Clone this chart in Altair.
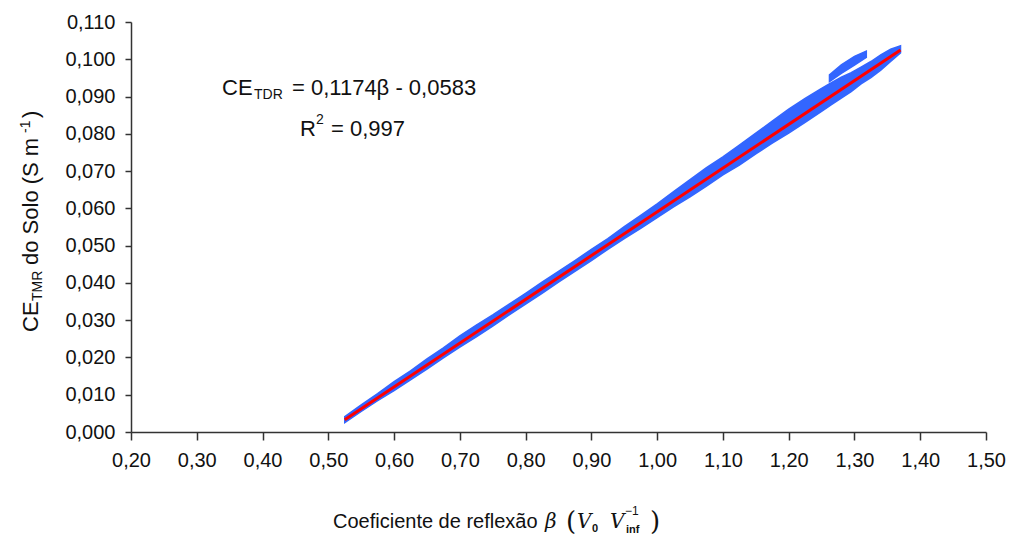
import altair as alt
import pandas as pd

# ---- data ----
BAND_X = [0.525, 0.55, 0.575, 0.60, 0.625, 0.65, 0.675, 0.70, 0.725, 0.75, 0.775, 0.80,
          0.825, 0.85, 0.875, 0.90, 0.925, 0.95, 0.975, 1.00, 1.025, 1.05, 1.075, 1.10,
          1.125, 1.15, 1.175, 1.20, 1.225, 1.25, 1.265, 1.28, 1.295, 1.31, 1.325, 1.34,
          1.355, 1.37]
BAND_HI = [0.0041, 0.0073, 0.0103, 0.0135, 0.0164, 0.0196, 0.0226, 0.0258, 0.0287, 0.0314,
           0.0343, 0.0372, 0.0402, 0.0431, 0.0460, 0.0490, 0.0519, 0.0551, 0.0581, 0.0612,
           0.0645, 0.0677, 0.0709, 0.0738, 0.0770, 0.0802, 0.0834, 0.0866, 0.0895, 0.0922,
           0.0937, 0.0952, 0.0964, 0.0979, 0.0994, 0.1012, 0.1027, 0.1036]
BAND_LO = [0.0025, 0.0055, 0.0084, 0.0111, 0.0140, 0.0169, 0.0199, 0.0228, 0.0255, 0.0284,
           0.0314, 0.0343, 0.0372, 0.0402, 0.0431, 0.0460, 0.0490, 0.0519, 0.0546, 0.0575,
           0.0604, 0.0631, 0.0660, 0.0690, 0.0716, 0.0746, 0.0775, 0.0802, 0.0831, 0.0860,
           0.0878, 0.0896, 0.0913, 0.0934, 0.0951, 0.0971, 0.0994, 0.1017]
STRAND_X = [1.262, 1.28, 1.30, 1.318]
STRAND_LO = [0.0940, 0.0962, 0.0984, 0.1005]
STRAND_HI = [0.0958, 0.0985, 0.1008, 0.1022]
FIT_X = [0.525, 1.37]
FIT_Y = [0.0033, 0.1025]
X_TICKS = [0.20, 0.30, 0.40, 0.50, 0.60, 0.70, 0.80, 0.90, 1.00, 1.10, 1.20, 1.30, 1.40, 1.50]
Y_TICKS = [0.000, 0.010, 0.020, 0.030, 0.040, 0.050, 0.060, 0.070, 0.080, 0.090, 0.100, 0.110]

BLUE = "#3366ff"
RED = "#ff0000"
FONT = "Liberation Sans"
SERIF = "DejaVu Serif"
OX, OY = 131, 22  # page position of plot origin

band = pd.DataFrame({"x": BAND_X, "lo": BAND_LO, "hi": BAND_HI})
strand = pd.DataFrame({"x": STRAND_X, "lo": STRAND_LO, "hi": STRAND_HI})
fit = pd.DataFrame({"x": FIT_X, "lo": FIT_Y})
one = pd.DataFrame({"k": [0]})

xscale = alt.Scale(domain=[0.2, 1.5], nice=False, zero=False)
yscale = alt.Scale(domain=[0.0, 0.11], nice=False)

common = dict(title="", grid=False, labelFontSize=20, labelFont=FONT, labelColor="#111",
              domainColor="#333", tickColor="#333", domainWidth=1.5, tickWidth=1.5,
              labelOverlap=False, labelFlush=False, labelBound=False)
xaxis = alt.Axis(values=X_TICKS, labelExpr="replace(format(datum.value, '.2f'), '.', ',')",
                 tickSize=8, labelPadding=10, **common)
yaxis = alt.Axis(values=Y_TICKS, labelExpr="replace(format(datum.value, '.3f'), '.', ',')",
                 tickSize=6, labelPadding=10, **common)

X = alt.X("x:Q", scale=xscale, axis=xaxis)
Y = alt.Y("lo:Q", scale=yscale, axis=yaxis)

area = alt.Chart(band).mark_area(color=BLUE, opacity=1, stroke=BLUE, strokeWidth=1.5).encode(
    x=X, y=Y, y2="hi:Q")
strand_area = alt.Chart(strand).mark_area(color=BLUE, opacity=1, stroke=BLUE,
                                          strokeWidth=1.5).encode(x=X, y=Y, y2="hi:Q")
line = alt.Chart(fit).mark_line(color=RED, strokeWidth=3).encode(x=X, y=Y)


def txt(s, px, py, size, angle=0, style="normal", weight="normal", family=FONT):
    return alt.Chart(one).mark_text(
        text=s, align="left", baseline="alphabetic", fontSize=size, angle=angle,
        fontStyle=style, fontWeight=weight, font=family, color="#111"
    ).encode(x=alt.value(px - OX), y=alt.value(py - OY))


texts = [
    # equation
    txt("CE", 222, 95, 22),
    txt("TDR", 254, 99, 14),
    txt("= 0,1174\u03b2 - 0,0583", 292, 95, 22),
    txt("R", 300, 136, 22),
    txt("2", 316, 124, 14),
    txt("= 0,997", 331, 136, 22),
    # x-axis title
    txt("Coeficiente de reflex\u00e3o", 333, 528, 20),
    txt("\u03b2", 545, 528, 20, style="italic", family=SERIF),
    txt("(", 566, 530, 26, family=SERIF),
    txt("V", 577, 528, 20, style="italic", family=SERIF),
    txt("0", 592, 532, 11, weight="bold"),
    txt("V", 610, 528, 20, style="italic", family=SERIF),
    txt("\u22121", 625, 515, 12),
    txt("inf", 626, 533, 11, weight="bold"),
    txt(")", 650, 530, 26, family=SERIF),
    # y-axis title (rotated)
    txt("CE", 38, 332, 22, angle=270),
    txt("TMR", 42, 301, 14, angle=270),
    txt("do Solo (S m", 38, 265, 22, angle=270),
    txt("-1", 30, 133, 14, angle=270),
    txt(")", 38, 118, 22, angle=270),
]

chart = alt.layer(area, strand_area, line, *texts).properties(
    width=855, height=410,
    autosize=alt.AutoSizeParams(type="none"),
    padding={"left": 123, "top": 14, "right": 22, "bottom": 104},
).configure_view(strokeWidth=0)

chart.save("out.html", embed_options={"renderer": "svg", "actions": False})
